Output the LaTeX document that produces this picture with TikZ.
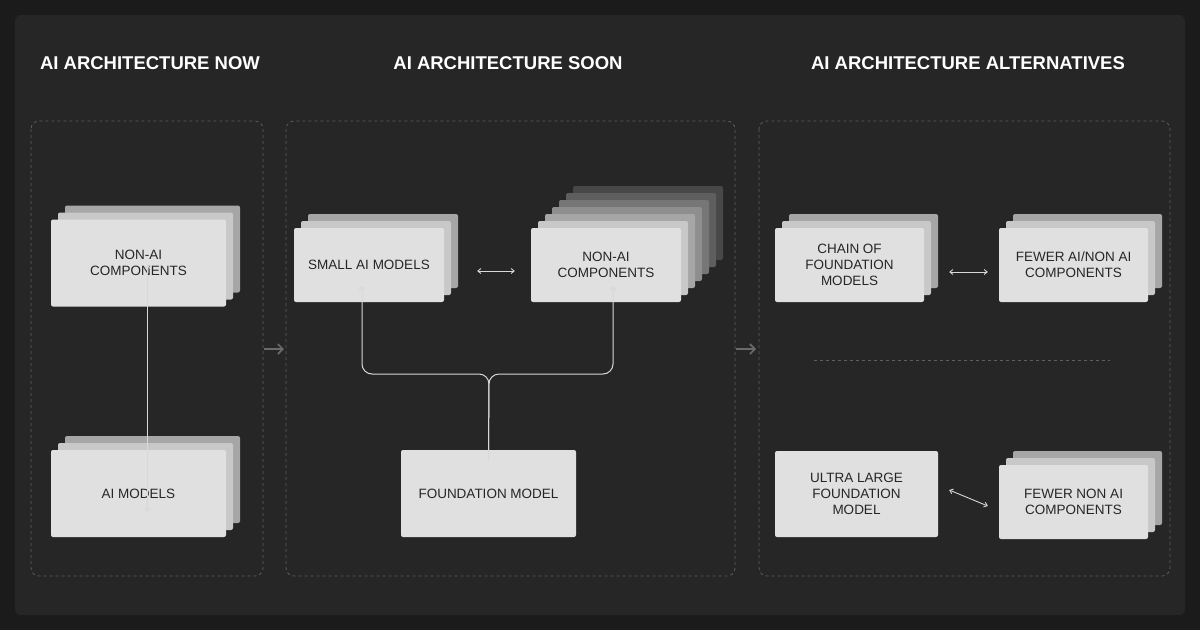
\documentclass[tikz,border=0pt]{standalone}
\usepackage{fontspec}
\setmainfont{Liberation Sans}
\usetikzlibrary{arrows.meta}
\definecolor{page}{HTML}{1B1B1B}
\definecolor{panel}{HTML}{262626}
\definecolor{frame}{HTML}{5E5E5E}
\definecolor{cardfront}{HTML}{E0E0E0}
\definecolor{layerA}{HTML}{C8C8C8}
\definecolor{layerB}{HTML}{A6A6A6}
\definecolor{layerC}{HTML}{8E8E8E}
\definecolor{layerD}{HTML}{767676}
\definecolor{layerE}{HTML}{5E5E5E}
\definecolor{layerF}{HTML}{484848}
\definecolor{wire}{HTML}{D8D8D8}
\definecolor{stepgray}{HTML}{6A6A6A}
\tikzset{
  card/.style={fill=cardfront, rounded corners=2pt, align=center,
    font=\fontsize{13.5}{16}\selectfont, text=black!85},
  group/.style={draw=frame, dashed, rounded corners=8pt, line width=0.8pt},
  title/.style={text=white, font=\fontsize{18.5}{22}\selectfont\bfseries},
  twoway/.style={wire, line width=0.9pt, {Straight Barb[length=3pt,width=5pt]}-{Straight Barb[length=3pt,width=5pt]}},
  oneway/.style={wire, line width=1pt, -{Straight Barb[length=3pt,width=6pt]}, rounded corners=10pt},
  flow/.style={stepgray, line width=1.6pt, -{Straight Barb[length=5pt,width=10pt]}}
}
% name, cx, cy, width, height, back layers (offset/colour), text
\newcommand{\cardstack}[7]{%
  \foreach \k/\col in {#6}{%
    \fill[\col, rounded corners=2pt] (#2-#4/2+7*\k, #3-#5/2-7*\k) rectangle ++(#4,#5);}
  \node[card, minimum width=#4pt, minimum height=#5pt] (#1) at (#2,#3) {#7};}
\begin{document}
\begin{tikzpicture}[x=1pt, y=-1pt]
  % Canvas
  \fill[page] (0,0) rectangle (1200,630);
  \fill[panel, rounded corners=6pt] (15,15) rectangle (1185,615);

  % Titles
  \node[title] (tnow) at (150,63) {AI ARCHITECTURE NOW};
  \node[title] (tsoon) at (508,63) {AI ARCHITECTURE SOON};
  \node[title] (talt) at (968,63) {AI ARCHITECTURE ALTERNATIVES};

  % Dashed groups
  \draw[group] (31,121) rectangle (263,576);
  \draw[group] (286,121) rectangle (735,576);
  \draw[group] (759,121) rectangle (1170,576);

  % Now
  \cardstack{nonai}{138.5}{263}{175}{87}{2/layerB,1/layerA}{NON-AI\\COMPONENTS}
  \cardstack{aimodels}{138.5}{493.5}{175}{87}{2/layerB,1/layerA}{AI MODELS}
  \draw[twoway] ([xshift=9pt,yshift=42pt]nonai.south) -- ([xshift=9pt,yshift=-62pt]aimodels.north);

  % Soon
  \cardstack{small}{369}{265}{150}{74}{2/layerB,1/layerA}{SMALL AI MODELS}
  \cardstack{nonaimany}{606}{265}{150}{74}{6/layerF,5/layerE,4/layerD,3/layerC,2/layerB,1/layerA}{NON-AI\\COMPONENTS}
  \node[card, minimum width=175pt, minimum height=87pt] (found) at (488.5,493.5) {FOUNDATION MODEL};
  \draw[twoway] ([xshift=33pt,yshift=-6pt]small.east) -- ([xshift=-16pt,yshift=-6pt]nonaimany.west);
  \draw[oneway] ([yshift=-10pt]found.north) -- (489,374) -- (362,374) -- ([xshift=-7pt,yshift=16pt]small.south);
  \draw[oneway] ([yshift=-10pt]found.north) -- (489,374) -- (613,374) -- ([xshift=7pt,yshift=16pt]nonaimany.south);

  % Alternatives
  \cardstack{chain}{849.5}{265}{149}{74}{2/layerB,1/layerA}{CHAIN OF\\FOUNDATION\\MODELS}
  \cardstack{fewer}{1073.5}{265}{149}{74}{2/layerB,1/layerA}{FEWER AI/NON AI\\COMPONENTS}
  \draw[twoway] ([xshift=25pt,yshift=-7pt]chain.east) -- ([xshift=-11pt,yshift=-7pt]fewer.west);
  \draw[group, rounded corners=0pt] (814,360) -- (1110,360);
  \node[card, minimum width=163pt, minimum height=86pt] (ultra) at (856.5,494) {ULTRA LARGE\\FOUNDATION\\MODEL};
  \cardstack{fewernon}{1073.5}{502}{149}{74}{2/layerB,1/layerA}{FEWER NON AI\\COMPONENTS}
  \draw[twoway] ([xshift=11pt,yshift=4pt]ultra.east) -- ([xshift=-11pt,yshift=-4pt]fewernon.west);

  % Between groups
  \draw[flow] (264,349) -- (284,349);
  \draw[flow] (736,349) -- (756,349);
\end{tikzpicture}
\end{document}
